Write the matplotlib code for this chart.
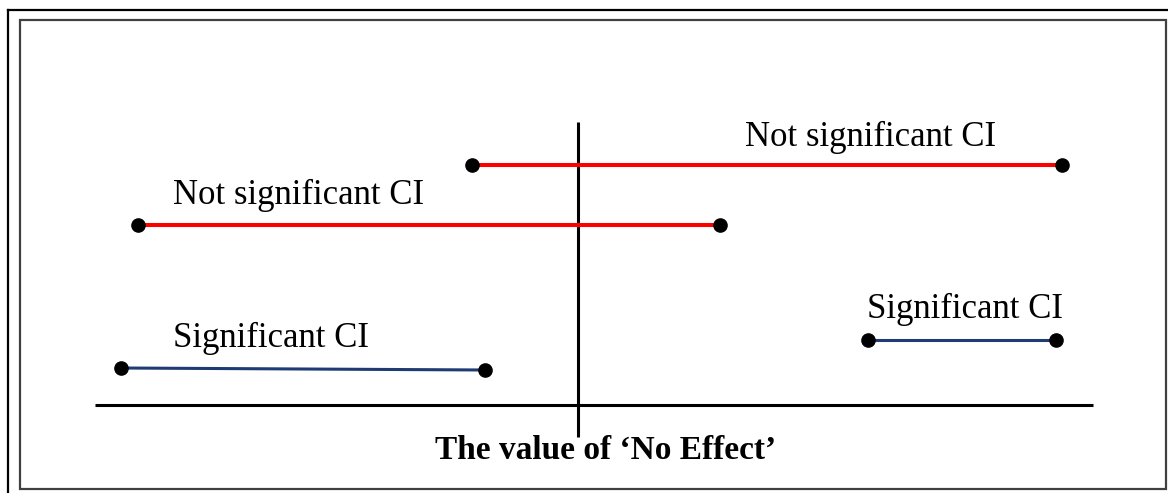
import matplotlib
matplotlib.use("Agg")
import matplotlib.pyplot as plt
from matplotlib.lines import Line2D
from matplotlib.patches import Rectangle

# confidence intervals, effect scale with 0 = no effect
ci_low = [-1.06, -4.40, -4.57, 2.90]
ci_high = [4.84, 1.42, -0.93, 4.78]
ci_row = [2.40, 1.80, 0.37, 0.65]
ci_row_end = [2.40, 1.80, 0.35, 0.65]
ci_colors = ["#ff0000", "#ff0000", "#1f3b73", "#1f3b73"]
ci_widths = [2.9, 2.9, 2.2, 2.2]

labels = ["Not significant CI", "Not significant CI", "Significant CI", "Significant CI"]
label_x = [1.67, -4.05, -4.05, 2.89]
label_y = [2.59, 2.01, 0.58, 0.87]

axis_x = [-4.83, 5.15]
null_y = [2.83, -0.32]
axis_title = "The value of \u2018No Effect\u2019"

fig = plt.figure(figsize=(11.68, 4.93), dpi=100)
ax = fig.add_axes([0, 0, 1, 1])
ax.set_xlim(-5.78, 5.90)
ax.set_ylim(-0.88, 4.05)
ax.axis("off")

# frames
W, H = 1168, 493
fig.add_artist(Line2D([8 / W, 1], [1 - 10 / H, 1 - 10 / H], transform=fig.transFigure, color="black", lw=1.6))
fig.add_artist(Line2D([8 / W, 8 / W], [1 - 10 / H, 0], transform=fig.transFigure, color="black", lw=1.6))
fig.add_artist(Rectangle((20 / W, 1 - 489 / H), (1166 - 20) / W, (489 - 20) / H,
                         transform=fig.transFigure, fill=False, edgecolor="#404040", lw=1.6))

# axis + no-effect line
ax.plot(axis_x, [0, 0], color="black", lw=2.2, solid_capstyle="butt")
ax.plot([0, 0], null_y, color="black", lw=2.2, solid_capstyle="butt")

for lo, hi, y0, y1, c, w in zip(ci_low, ci_high, ci_row, ci_row_end, ci_colors, ci_widths):
    ax.plot([lo, hi], [y0, y1], color=c, lw=w, zorder=2)
    ax.plot([lo, hi], [y0, y1], "o", color="black", markersize=9.5, zorder=3)

for t, x, y in zip(labels, label_x, label_y):
    ax.text(x, y, t, fontsize=25, family="Liberation Serif", ha="left", va="baseline")

ax.text(0.28, -0.54, axis_title, fontsize=24, family="Liberation Serif",
        fontweight="bold", ha="center", va="baseline")

fig.savefig("out.png", dpi=100)
